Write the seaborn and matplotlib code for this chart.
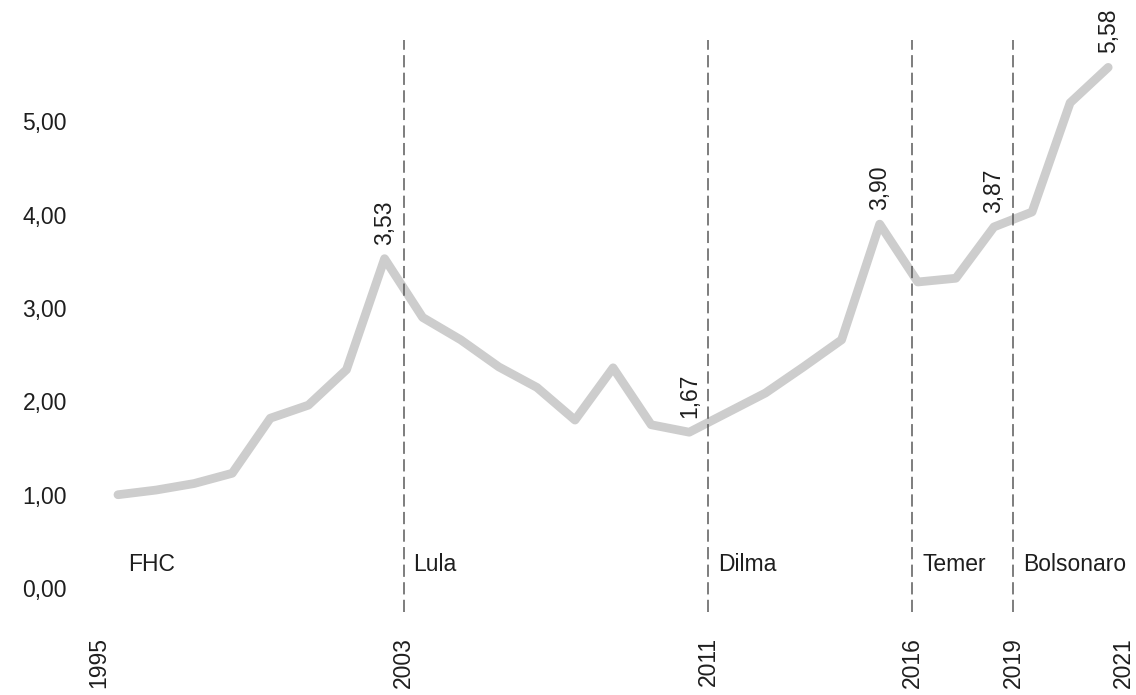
import numpy as np
import matplotlib
matplotlib.use("Agg")
import matplotlib.pyplot as plt
import seaborn as sns
import pandas as pd

# dados (valor por ano)
years = list(range(1995, 2022))
values = [1.00, 1.05, 1.12, 1.23, 1.82, 1.96, 2.34, 3.53, 2.90, 2.66,
          2.37, 2.15, 1.80, 2.36, 1.75, 1.67, 1.88, 2.09, 2.37, 2.66,
          3.90, 3.28, 3.32, 3.87, 4.03, 5.20, 5.58]

# mandatos presidenciais (inicio em ano decimal)
term_names = ["FHC", "Lula", "Dilma", "Temer", "Bolsonaro"]
term_starts = [1995.0, 2003.0, 2011.0, 2016.36, 2019.0]
tick_pos = term_starts + [2021.9]
tick_labels = ["1995", "2003", "2011", "2016", "2019", "2021"]

# anos com rotulo de valor
label_years = [2002, 2010, 2015, 2018, 2021]

df = pd.DataFrame({"ano": years, "valor": values})
df["x"] = df["ano"] + 0.5  # ponto no meio do ano

sns.set_style("white")
plt.rcParams["font.family"] = ["Liberation Sans", "DejaVu Sans"]

fig = plt.figure(figsize=(11.36, 6.95), dpi=100)
ax = fig.add_axes([0.0792, 0.1194, 0.9208, 0.823])

sns.lineplot(data=df, x="x", y="valor", color="#cdcdcd", linewidth=6.3, ax=ax)

for xs in term_starts[1:]:
    ax.axvline(xs, color="#5a5a5a", linestyle=(0, (8, 3.5)), linewidth=1.1)

label_x = [df["x"].iloc[0]] + term_starts[1:]
for name, xs in zip(term_names, label_x):
    ax.annotate(name, xy=(xs, 0.25), xytext=(7, 0), textcoords="offset points",
                ha="left", va="center", fontsize=16.5, color="#1e1e1e")

for yr in label_years:
    row = df[df["ano"] == yr].iloc[0]
    txt = f"{row['valor']:.2f}".replace(".", ",")
    ax.annotate(txt, xy=(row["x"], row["valor"]), xytext=(0, 10),
                textcoords="offset points", rotation=90, ha="center",
                va="bottom", fontsize=16.5, color="#1e1e1e", annotation_clip=False)

ax.set_xlim(1994.765, 2022.23)
ax.set_ylim(-0.257, 5.873)
ax.set_yticks([0, 1, 2, 3, 4, 5])
ax.set_yticklabels([f"{v:.2f}".replace(".", ",") for v in [0, 1, 2, 3, 4, 5]])
ax.set_xticks(tick_pos)
ax.set_xticklabels(tick_labels, rotation=90)
ax.tick_params(axis="y", length=0, pad=16.5, labelsize=16.5, labelcolor="#1e1e1e")
ax.tick_params(axis="x", length=0, pad=18, labelsize=16.5, labelcolor="#1e1e1e")
ax.set_xlabel("")
ax.set_ylabel("")
sns.despine(ax=ax, left=True, bottom=True)

fig.savefig("out.png", dpi=100)
